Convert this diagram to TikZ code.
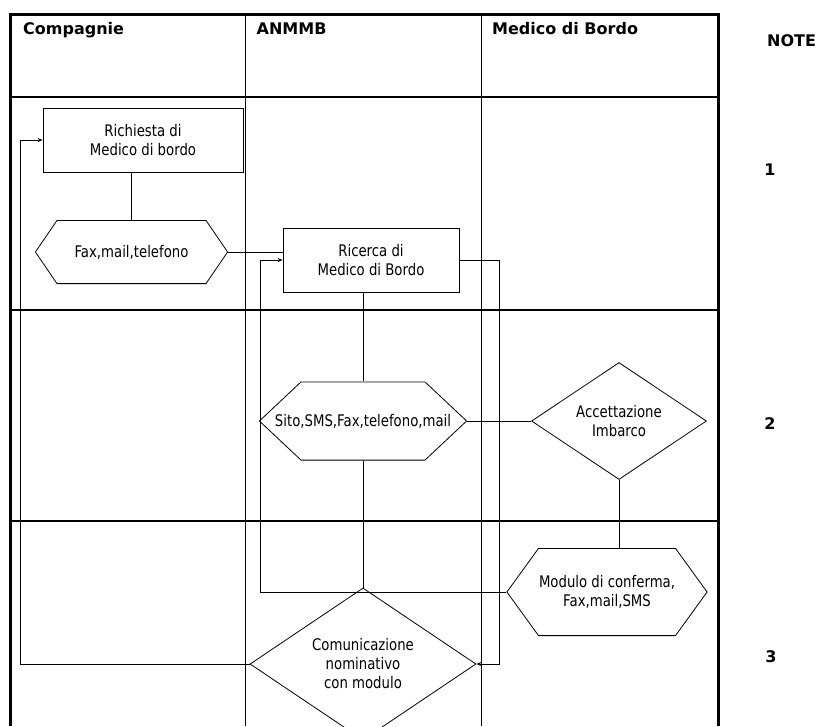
\documentclass[tikz,border=0pt]{standalone}
\usepackage{fontspec}
\setmainfont{DejaVu Sans}[FakeStretch=0.83]
\newfontfamily\headfont{DejaVu Sans}
\usetikzlibrary{shapes.geometric, arrows.meta, positioning, calc}
\newcommand{\boxfont}{\fontsize{16}{19}\selectfont}
\tikzset{
    procbox/.style={
        rectangle,
        draw=black,
        line width=0.8pt,
        minimum width=200pt,
        minimum height=64pt,
        align=center,
        font=\boxfont
    },
    datahex/.style={
        rectangle,
        inner sep=0pt,
        align=center,
        font=\boxfont,
        path picture={
            \draw[wire]
                ([shift={(#1,-0.4pt)}]path picture bounding box.north west) --
                ([shift={(-#1,-0.4pt)}]path picture bounding box.north east) --
                ([xshift=-0.4pt]path picture bounding box.east) --
                ([shift={(-#1,0.4pt)}]path picture bounding box.south east) --
                ([shift={(#1,0.4pt)}]path picture bounding box.south west) --
                ([xshift=0.4pt]path picture bounding box.west) -- cycle;
        }
    },
    decision/.style={
        diamond,
        draw=black,
        line width=0.8pt,
        inner sep=0pt,
        align=center,
        font=\boxfont
    },
    wire/.style={
        draw=black,
        line width=0.8pt
    },
    flow/.style={
        wire,
        -{Stealth[length=5pt,width=4pt]}
    },
    frame/.style={
        draw=black,
        line width=3pt
    },
    laneline/.style={
        draw=black,
        line width=1.3pt
    },
    divider/.style={
        draw=black,
        line width=0.9pt
    },
    header/.style={
        anchor=base west,
        inner sep=0pt,
        font=\headfont\bfseries\fontsize{16}{19}\selectfont
    },
    notemark/.style={
        inner sep=0pt,
        font=\headfont\bfseries\fontsize{16}{19}\selectfont
    }
}

\begin{document}
\begin{tikzpicture}[x=1pt, y=-1pt]
\useasboundingbox (0,0) rectangle (826,726);

% Swimlane grid
\draw[laneline] (10,97) -- (718,97);
\draw[laneline] (10,310) -- (718,310);
\draw[laneline] (10,521) -- (718,521);
\draw[divider] (245,14) -- (245,726);
\draw[divider] (481,14) -- (481,726);
\draw[frame] (10,726) -- (10,14) -- (718,14) -- (718,726);

% Lane headers
\node[header] (hcomp) at (23,34.5) {Compagnie};
\node[header] (hanmmb) at (256.5,34.5) {ANMMB};
\node[header] (hmedico) at (492,34.5) {Medico di Bordo};

% Notes column
\node[notemark, anchor=west] (note) at (767,41) {NOTE};
\node[notemark] (n1) at (770,170) {1};
\node[notemark] (n2) at (770,424) {2};
\node[notemark] (n3) at (771,657) {3};

% Steps
\node[procbox] (req) at (143,140) {Richiesta di\\Medico di bordo};
\node[datahex=22pt, minimum width=193pt, minimum height=64pt] (fax) at (131.5,252) {Fax,mail,telefono};
\node[procbox, minimum width=176pt] (ric) at (371,260) {Ricerca di\\Medico di Bordo};
\node[datahex=42pt, minimum width=208pt, minimum height=79pt] (sito) at (363,421) {Sito,SMS,Fax,telefono,mail};
\node[decision, minimum width=175pt, minimum height=90pt] (acc) at (619,421) {Accettazione\\Imbarco};
\node[datahex=32pt, minimum width=201pt, minimum height=88pt] (mod) at (607,592) {Modulo di conferma,\\Fax,mail,SMS};
\node[decision, minimum width=226pt, minimum height=120pt] (com) at (363,664) {Comunicazione\\nominativo\\con modulo};

% Return paths
\coordinate (backL) at (20,664);
\coordinate (backR) at (260,592);
\coordinate (backM) at (499,664);

% Connectors
\draw[wire] (fax.north) -- (fax.north |- req.south);
\draw[wire] (fax.east) -- (fax.east -| ric.west);
\draw[wire] (sito.north) -- (sito.north |- ric.south);
\draw[wire] (sito.east) -- (acc.west);
\draw[wire] (acc.south) -- (acc.south |- mod.north);
\draw[wire] (sito.south) -- (com.north);
\draw[flow] (mod.west) -- (backR) |- (ric.west);
\draw[flow] (ric.east) -| (backM) -- (com.east);
\draw[flow] (com.west) -- (backL) |- (req.west);

\end{tikzpicture}
\end{document}
